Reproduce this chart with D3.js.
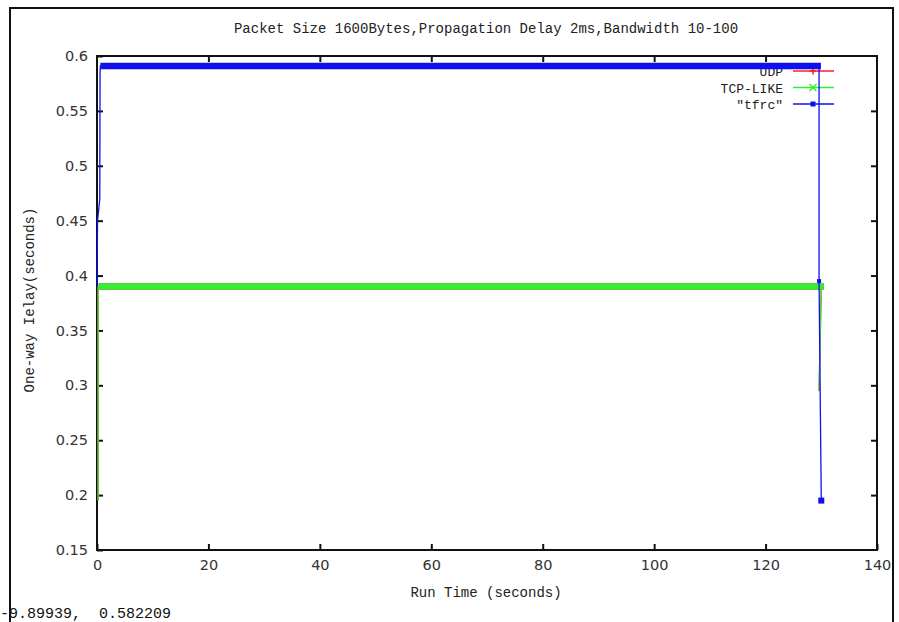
<!DOCTYPE html>
<html lang="en">
    <head>
        <meta charset="utf-8">
        <title>One-way Delay vs. Run Time</title>
        <script src="https://d3js.org/d3.v7.min.js"></script>
        <style type="text/css">
            body { margin: 0; background: #fff; }
            .mono { font-family: "Liberation Mono", "DejaVu Sans Mono", monospace; white-space: pre; }
            .tick text { font-family: "DejaVu Sans", sans-serif; font-size: 14.5px; fill: #333; }
        </style>
    </head>
    <body>
        <script type="text/javascript">

        // Constants
        const w = 899;
        const h = 622;
        const plotLeft = 97, plotRight = 877, plotTop = 56, plotBottom = 550;

        // Data
        const titleText = "Packet Size 1600Bytes,Propagation Delay 2ms,Bandwidth 10-100";
        const xTicks = [0, 20, 40, 60, 80, 100, 120, 140];
        const yTicks = [0.15, 0.2, 0.25, 0.3, 0.35, 0.4, 0.45, 0.5, 0.55, 0.6];
        const seriesNames = ["UDP", "TCP-LIKE", "\"tfrc\""];

        const udpTime  = [0.2, 0.2, 0.3, 129.9, 130.0, 129.6];
        const udpDelay = [0.195, 0.39, 0.39, 0.39, 0.39, 0.295];

        const tcpTime  = [0.2, 0.2, 0.3, 129.9, 130.0, 129.6];
        const tcpDelay = [0.195, 0.39, 0.39, 0.39, 0.39, 0.295];

        const tfrcTime  = [0.0, 0.1, 0.5, 0.55, 0.6, 129.4, 129.6, 129.6, 130.0];
        const tfrcDelay = [0.39, 0.45, 0.47, 0.585, 0.591, 0.591, 0.591, 0.395, 0.195];

        const cornerText = "-9.89939,  0.582209";

        // SVG
        const svg = d3.select("body")
                      .append("svg")
                      .attr("width", w)
                      .attr("height", h);

        svg.append("rect")
           .attr("width", w).attr("height", h)
           .attr("fill", "#fff");

        // outer frame
        svg.append("rect")
           .attr("x", 10).attr("y", 8)
           .attr("width", 883).attr("height", 640)
           .attr("fill", "none")
           .attr("stroke", "#111")
           .attr("stroke-width", 2);

        // Scales
        const xScale = d3.scaleLinear().domain([0, 140]).range([plotLeft, plotRight]);
        const yScale = d3.scaleLinear().domain([0.15, 0.6]).range([plotBottom, plotTop]);

        // Axes (gnuplot style: inward ticks, mirrored)
        const bottomAxis = d3.axisBottom(xScale).tickValues(xTicks)
                             .tickSizeInner(-6).tickSizeOuter(0).tickPadding(10)
                             .tickFormat(d3.format("d"));
        svg.append("g")
           .attr("transform", "translate(0," + plotBottom + ")")
           .call(bottomAxis)
           .call(g => g.select(".domain").remove());

        const topAxis = d3.axisTop(xScale).tickValues(xTicks.slice(1, -1))
                          .tickSizeInner(-6).tickSizeOuter(0).tickFormat("");
        svg.append("g")
           .attr("transform", "translate(0," + plotTop + ")")
           .call(topAxis)
           .call(g => g.select(".domain").remove());

        const leftAxis = d3.axisLeft(yScale).tickValues(yTicks)
                           .tickSizeInner(-6).tickSizeOuter(0).tickPadding(9)
                           .tickFormat(d => String(+d.toFixed(2)));
        svg.append("g")
           .attr("transform", "translate(" + plotLeft + ",0)")
           .call(leftAxis)
           .call(g => g.select(".domain").remove());

        const rightAxis = d3.axisRight(yScale).tickValues(yTicks.slice(1, -1))
                            .tickSizeInner(-6).tickSizeOuter(0).tickFormat("");
        svg.append("g")
           .attr("transform", "translate(" + plotRight + ",0)")
           .call(rightAxis)
           .call(g => g.select(".domain").remove());

        svg.selectAll(".tick line").attr("stroke", "#111").attr("stroke-width", 2);

        // plot border
        svg.append("rect")
           .attr("x", plotLeft).attr("y", plotTop)
           .attr("width", plotRight - plotLeft).attr("height", plotBottom - plotTop)
           .attr("fill", "none")
           .attr("stroke", "#111")
           .attr("stroke-width", 2);

        // Title and labels
        svg.append("text")
           .attr("class", "mono")
           .attr("x", 486).attr("y", 33)
           .attr("text-anchor", "middle")
           .attr("font-size", "14px")
           .attr("fill", "#222")
           .text(titleText);

        svg.append("text")
           .attr("class", "mono")
           .attr("x", 486).attr("y", 597)
           .attr("text-anchor", "middle")
           .attr("font-size", "14px")
           .attr("fill", "#222")
           .text("Run Time (seconds)");

        svg.append("text")
           .attr("class", "mono")
           .attr("transform", "translate(34,300) rotate(-90)")
           .attr("text-anchor", "middle")
           .attr("font-size", "14px")
           .attr("fill", "#222")
           .text("One-way Ielay(seconds)");

        svg.append("text")
           .attr("class", "mono")
           .attr("x", 0).attr("y", 618)
           .attr("font-size", "15px")
           .attr("fill", "#111")
           .text(cornerText);

        // Series
        const series = [
            {name: seriesNames[0], t: udpTime, v: udpDelay, color: "#ff2020", mark: "plus"},
            {name: seriesNames[1], t: tcpTime, v: tcpDelay, color: "#33ee33", mark: "cross"},
            {name: seriesNames[2], t: tfrcTime, v: tfrcDelay, color: "#1010ee", mark: "star"}
        ];

        function drawMark(g, x, y, type, color, size) {
            const s = size / 2;
            if (type === "plus") {
                g.append("path").attr("d", `M${x - s},${y}H${x + s}M${x},${y - s}V${y + s}`)
                 .attr("stroke", color).attr("stroke-width", 1.5);
            } else if (type === "cross") {
                g.append("path").attr("d", `M${x - s},${y - s}L${x + s},${y + s}M${x - s},${y + s}L${x + s},${y - s}`)
                 .attr("stroke", color).attr("stroke-width", 1.5);
            } else {
                g.append("rect").attr("x", x - s + 1).attr("y", y - s + 1)
                 .attr("width", size - 2).attr("height", size - 2).attr("fill", color);
            }
        }

        // Legend (drawn first so the tfrc band sits on top of the UDP label)
        const legend = svg.append("g");
        series.forEach((s, i) => {
            const y = 71 + i * 16.5;
            legend.append("text")
                  .attr("class", "mono")
                  .attr("x", 783).attr("y", y + 5)
                  .attr("text-anchor", "end")
                  .attr("font-size", "13px")
                  .attr("fill", "#222")
                  .text(s.name);
            legend.append("line")
                  .attr("x1", 793).attr("x2", 834)
                  .attr("y1", y).attr("y2", y)
                  .attr("stroke", s.color).attr("stroke-width", 1.5);
            drawMark(legend, 813, y, s.mark, s.color, 7);
        });

        const line = d3.line().x(d => xScale(d[0])).y(d => yScale(d[1]));

        series.forEach(s => {
            const pts = s.t.map((t, i) => [t, s.v[i]]);
            const g = svg.append("g");
            // flat runs are drawn thick: packets are so dense their markers merge
            for (let i = 1; i < pts.length; i++) {
                if (pts[i][1] === pts[i - 1][1] && pts[i][0] - pts[i - 1][0] > 1) {
                    g.append("line")
                     .attr("x1", xScale(pts[i - 1][0])).attr("x2", xScale(pts[i][0]) + 3)
                     .attr("y1", yScale(pts[i][1])).attr("y2", yScale(pts[i][1]))
                     .attr("stroke", s.color).attr("stroke-width", 6.5);
                }
            }
            g.append("path")
             .datum(pts)
             .attr("d", line)
             .attr("fill", "none")
             .attr("stroke", s.color)
             .attr("stroke-width", 1.3);
            if (s.mark === "star") {
                drawMark(g, xScale(pts[pts.length - 1][0]), yScale(pts[pts.length - 1][1]), s.mark, s.color, 8);
                drawMark(g, xScale(pts[pts.length - 2][0]), yScale(pts[pts.length - 2][1]), s.mark, s.color, 6);
            }
        });
        </script>
    </body>
</html>
